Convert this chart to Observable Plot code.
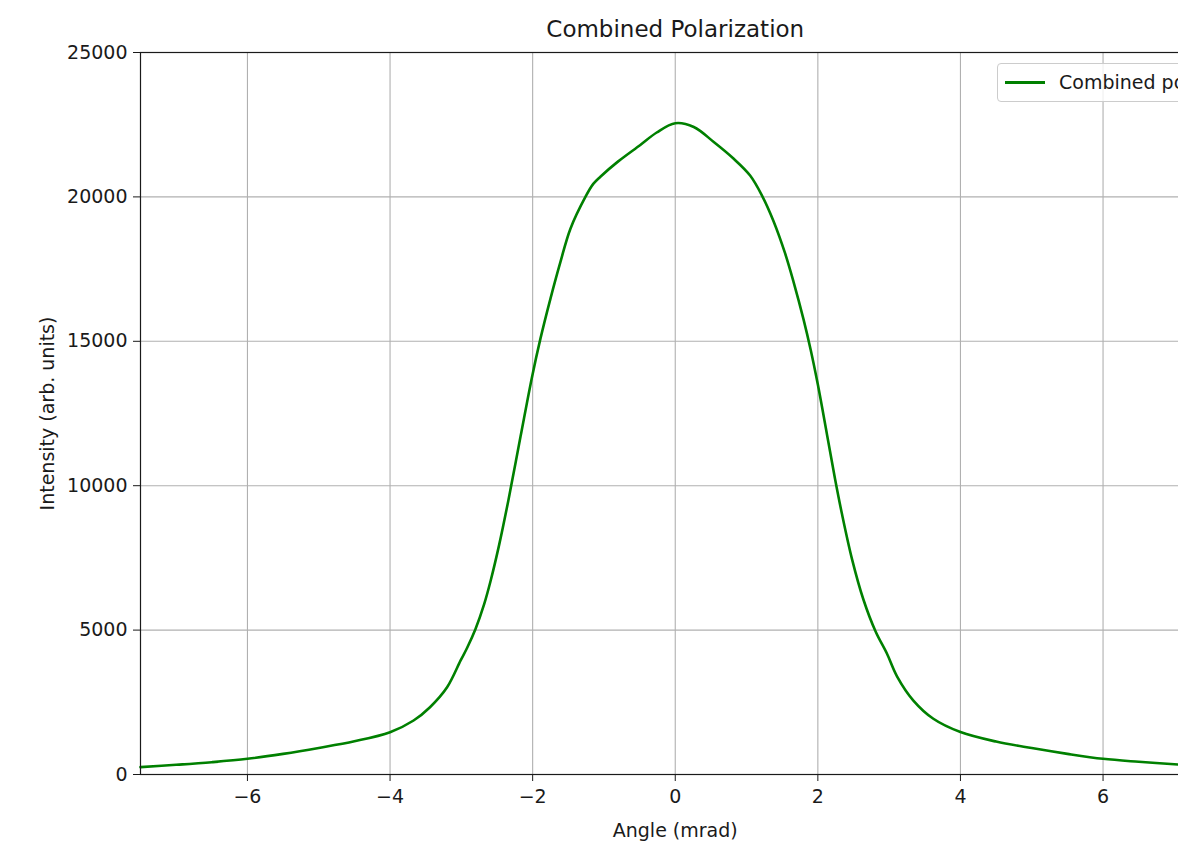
<!DOCTYPE html>
<html>
<head>
<meta charset="utf-8">
<script src="https://cdn.jsdelivr.net/npm/d3@7"></script>
<script src="https://cdn.jsdelivr.net/npm/@observablehq/plot@0.6"></script>
<style>
  html, body { margin: 0; padding: 0; background: white; overflow: hidden; width: 1178px; height: 843px; }
  #wrap { position: relative; width: 1240px; height: 843px; }
  #legend {
    position: absolute; left: 997px; top: 63px; width: 250px; height: 37px;
    border: 1px solid #cccccc; border-radius: 4px; background: rgba(255,255,255,0.8);
    font-family: "DejaVu Sans", sans-serif; font-size: 19px; color: #1a1a1a;
  }
  #legend .sw { position: absolute; left: 7px; top: 17px; width: 40px; height: 2.6px; background: #008000; }
  #legend .lb { position: absolute; left: 61px; top: 0; line-height: 37px; white-space: nowrap; }
</style>
</head>
<body>
<div id="wrap">
  <div id="chart"></div>
  <div id="legend"><div class="sw"></div><div class="lb" id="legendLabel"></div></div>
</div>
<script>
// ---- data ----
const titleText = "Combined Polarization";
const xLabel = "Angle (mrad)";
const yLabel = "Intensity (arb. units)";
const seriesName = "Combined polarization";

const xTicks = [-6, -4, -2, 0, 2, 4, 6];
const yTicks = [0, 5000, 10000, 15000, 20000, 25000];

const angle = [
  -7.5, -7.0, -6.5, -6.0, -5.5, -5.0, -4.5, -4.0, -3.67, -3.44, -3.2, -3.01, -2.92, -2.8,
  -2.68, -2.59, -2.47, -2.34, -2.17, -2.01, -1.89, -1.75, -1.61, -1.47, -1.26, -1.15, -1.05,
  -0.8, -0.49, -0.26, 0, 0.26, 0.54, 0.82, 1.05, 1.22, 1.38, 1.54, 1.66, 1.8, 1.9, 2.0,
  2.13, 2.24, 2.34, 2.48, 2.64, 2.81, 2.97, 3.11, 3.34, 3.62, 4.0, 4.5, 5.0, 5.5, 6.0,
  6.5, 7.05, 7.5
];
const intensity = [
  255, 335, 426, 543, 715, 920, 1150, 1465, 1870, 2330, 3020, 3950, 4380, 5050,
  5900, 6700, 7950, 9500, 11700, 13750, 15100, 16480, 17750, 18900, 20000, 20450, 20700,
  21230, 21800, 22230, 22550, 22420, 21900, 21320, 20740, 20030, 19150, 18050, 17050, 15750, 14700, 13500,
  11750, 10250, 9000, 7450, 6050, 4950, 4180, 3400, 2560, 1930, 1470, 1140, 915, 715, 543,
  440, 346, 285
];

const data = angle.map((a, i) => ({angle: a, intensity: intensity[i]}));
const fmt = d3.format("d");

const chart = Plot.plot({
  width: 1240,
  height: 843,
  marginLeft: 140,
  marginRight: 30.5,
  marginTop: 52,
  marginBottom: 69,
  x: {domain: [-7.5, 7.5]},
  y: {domain: [0, 25000]},
  style: {fontFamily: "DejaVu Sans, sans-serif", fontSize: "19px", background: "white", color: "#1a1a1a"},
  marks: [
    Plot.gridX(xTicks, {stroke: "#b0b0b0", strokeOpacity: 1, strokeWidth: 1.1}),
    Plot.gridY(yTicks, {stroke: "#b0b0b0", strokeOpacity: 1, strokeWidth: 1.1}),
    Plot.line(data, {x: "angle", y: "intensity", stroke: "#008000", strokeWidth: 2.6, curve: "catmull-rom"}),
    Plot.frame({stroke: "#1a1a1a", strokeWidth: 1.2}),
    Plot.axisX(xTicks, {tickSize: 7, tickPadding: 8, tickFormat: fmt, label: null, fontSize: 19, stroke: "#1a1a1a"}),
    Plot.axisY(yTicks, {tickSize: 7, tickPadding: 6, tickFormat: fmt, label: null, fontSize: 19, stroke: "#1a1a1a"}),
    Plot.text([titleText], {text: d => d, frameAnchor: "top", lineAnchor: "middle", dy: -23, fontSize: 23}),
    Plot.text([xLabel], {text: d => d, frameAnchor: "bottom", lineAnchor: "middle", dy: 56, fontSize: 19}),
    Plot.text([yLabel], {text: d => d, frameAnchor: "left", textAnchor: "middle", lineAnchor: "middle", dx: -93, rotate: -90, fontSize: 19})
  ]
});
document.getElementById("chart").appendChild(chart);
document.getElementById("legendLabel").textContent = seriesName;
</script>
</body>
</html>
